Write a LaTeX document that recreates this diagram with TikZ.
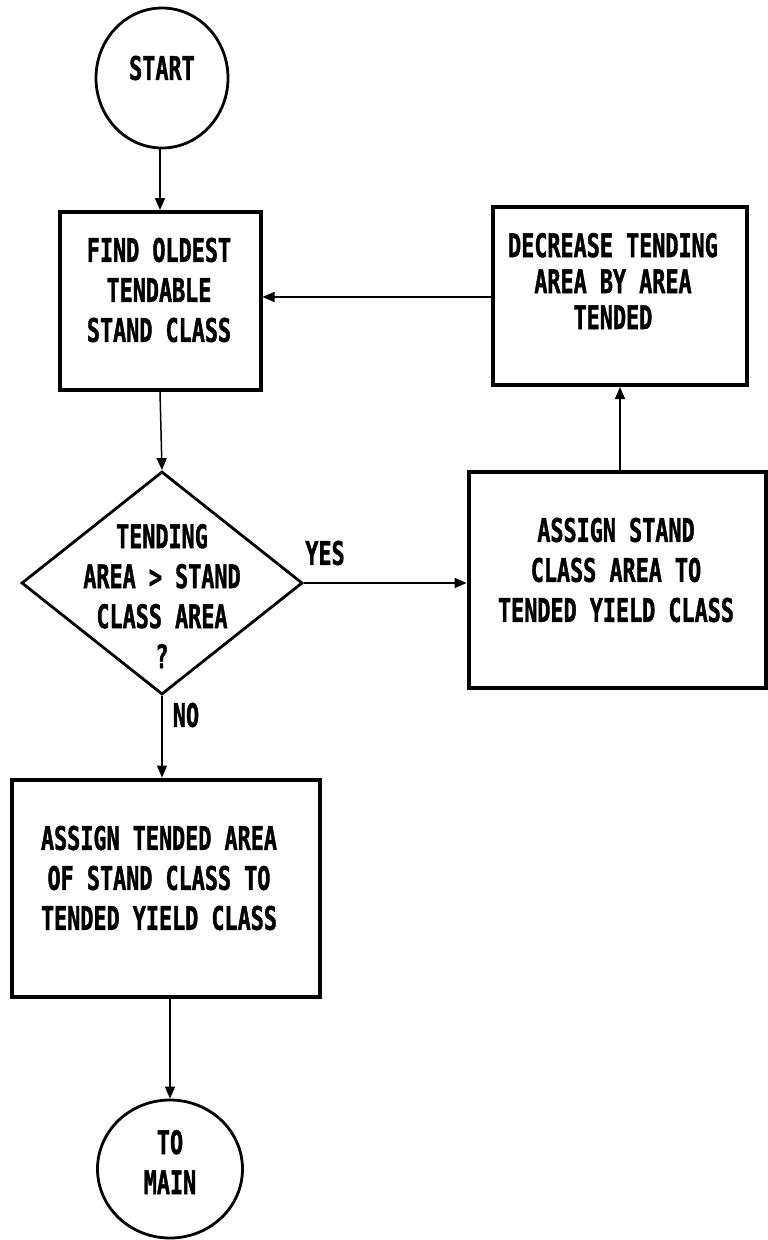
\documentclass[tikz,border=0pt]{standalone}
\usepackage{fontspec}
\newfontfamily\dotfont[FakeStretch=0.67,FakeBold=1.2]{DejaVu Sans Mono}
\usetikzlibrary{shapes.geometric,arrows.meta,calc}
\begin{document}
\begin{tikzpicture}[x=1pt,y=-1pt,
  boxshape/.style={draw,line width=4pt,rectangle,inner sep=0pt},
  termshape/.style={draw,line width=2.8pt,ellipse,inner sep=0pt},
  decshape/.style={draw,line width=2.8pt,diamond,inner sep=0pt},
  txt/.style={font=\dotfont\bfseries\fontsize{32.5}{40}\selectfont,align=center,inner sep=0pt},
  txtb/.style={font=\dotfont\bfseries\fontsize{32.5}{36}\selectfont,align=center,inner sep=0pt},
  conn/.style={line width=1.5pt,-{Triangle[length=12pt,width=10pt]}}]
\useasboundingbox (0,0) rectangle (768,1240);
% shapes
\node (start) [termshape,minimum width=132pt,minimum height=140pt] at (162,78) {};
\node (b1) [boxshape,minimum width=201pt,minimum height=178pt] at (160,301) {};
\node (b2) [boxshape,minimum width=254pt,minimum height=178pt] at (620,296) {};
\node (dia) [decshape,aspect=1.26,minimum width=281pt,minimum height=223pt] at (162,583) {};
\node (b3) [boxshape,minimum width=297pt,minimum height=216pt] at (617,580) {};
\node (b4) [boxshape,minimum width=308pt,minimum height=217pt] at (166,888) {};
\node (tm) [termshape,minimum width=145pt,minimum height=138pt] at (170,1169) {};
% texts
\node (startt) [txt] at (162,68) {START};
\node (b1t) [txt] at (159,290) {FIND OLDEST\\TENDABLE\\STAND CLASS};
\node (b2t) [txtb] at (613,281) {DECREASE TENDING\\AREA BY AREA\\TENDED};
\node (diat) [txt] at (162,596) {TENDING\\AREA > STAND\\CLASS AREA\\?};
\node (b3t) [txt] at (616,570) {ASSIGN STAND\\CLASS AREA TO\\TENDED YIELD CLASS};
\node (b4t) [txt] at (159,878) {ASSIGN TENDED AREA\\OF STAND CLASS TO\\TENDED YIELD CLASS};
\node (tmt) [txt] at (170,1162) {TO\\MAIN};
\node (yes) [txt] at (325,553) {YES};
\node (no) [txt] at (186,715) {NO};
% connectors
\draw[conn] (start.south -| b1.north) -- (b1.north);
\draw[conn] (b1.south) -- (dia.north);
\draw[conn] (dia.east) -- (dia.east -| b3.west);
\draw[conn] (b2.south |- b3.north) -- (b2.south);
\draw[conn] (b2.west |- 0,297) -- (b1.east |- 0,297);
\draw[conn] (dia.south) -- (dia.south |- b4.north);
\draw[conn] (b4.south -| tm.north) -- (tm.north);
\end{tikzpicture}
\end{document}
